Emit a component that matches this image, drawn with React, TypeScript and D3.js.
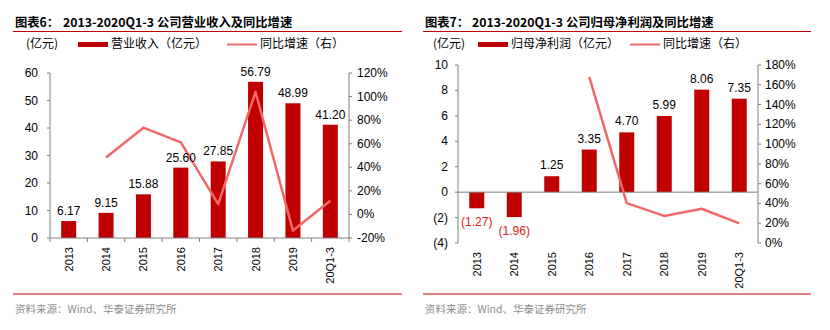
import React from 'react';
import * as d3 from 'd3';

const categories = ['2013', '2014', '2015', '2016', '2017', '2018', '2019', '20Q1-3'];
const revenue = [6.17, 9.15, 15.88, 25.6, 27.85, 56.79, 48.99, 41.2];
const revenueGrowth: (number | null)[] = [null, 48.3, 73.6, 61.2, 8.8, 103.9, -13.7, 11.6];
const profit = [-1.27, -1.96, 1.25, 3.35, 4.7, 5.99, 8.06, 7.35];
const profitGrowth: (number | null)[] = [null, null, null, 168, 40.3, 27.4, 34.6, 19.9];
const leftTicksA = [0, 10, 20, 30, 40, 50, 60];
const rightTicksA = [-20, 0, 20, 40, 60, 80, 100, 120];
const leftTicksB = [-4, -2, 0, 2, 4, 6, 8, 10];
const rightTicksB = [0, 20, 40, 60, 80, 100, 120, 140, 160, 180];

const BAR = '#C00000';
const LINE = '#F26868';
const AXIS = '#7F7F7F';
const FONT = 'Liberation Sans, Arial, sans-serif';
const CJK = '"Noto Sans CJK SC", sans-serif';

function fmtNeg(v: number) {
  return v < 0 ? `(${Math.abs(v).toFixed(2)})` : v.toFixed(2);
}
function fmtTickB(v: number) {
  return v < 0 ? `(${Math.abs(v)})` : `${v}`;
}

function Header({ x0, x1, label, title, titleX, legend, legendX }: any) {
  return (
    <g>
      <text x={x0 + 2} y={27} fontFamily={CJK} fontWeight={700} fontSize={12.3} fill="#000">{label}</text>
      <text x={titleX} y={27} fontFamily={CJK} fontWeight={700} fontSize={12.3} fill="#000">{title}</text>
      <line x1={x0} x2={x1} y1={31.5} y2={31.5} stroke="#C00000" strokeWidth={1} />
      <text x={legendX[0]} y={48} fontFamily={CJK} fontSize={12} fill="#000">(亿元)</text>
      <rect x={legendX[1]} y={42} width={30} height={5} fill={BAR} />
      <text x={legendX[1] + 33} y={48} fontFamily={CJK} fontSize={12} fill="#000">{legend}</text>
      <line x1={legendX[2]} x2={legendX[2] + 30} y1={44.5} y2={44.5} stroke={LINE} strokeWidth={2} />
      <text x={legendX[2] + 33} y={48} fontFamily={CJK} fontSize={12} fill="#000">同比增速（右）</text>
      <line x1={x0} x2={x1} y1={294} y2={294} stroke="#C00000" strokeWidth={1} />
      <text x={x0 + 2} y={313} fontFamily={CJK} fontSize={10.5} fill="#8C8C8C">资料来源：Wind、华泰证券研究所</text>
    </g>
  );
}

function ChartA() {
  const x = d3.scaleBand<string>().domain(categories).range([50, 349]);
  const y = d3.scaleLinear().domain([0, 60]).range([238, 73]);
  const y2 = d3.scaleLinear().domain([-20, 120]).range([238, 73]);
  const bw = 15;
  const line = d3
    .line<[string, number | null]>()
    .defined((d) => d[1] !== null)
    .x((d) => (x(d[0]) as number) + x.bandwidth() / 2)
    .y((d) => y2(d[1] as number));
  const pts = categories.map((c, i) => [c, revenueGrowth[i]] as [string, number | null]);
  const bounds = categories.map((c) => x(c) as number).concat([349]);
  return (
    <g>
      <Header x0={13} x1={402} label="图表6：" title="2013-2020Q1-3 公司营业收入及同比增速" titleX={63}
        legend="营业收入（亿元）" legendX={[26, 78, 227]} />
      {categories.map((c, i) => (
        <rect key={c} x={(x(c) as number) + x.bandwidth() / 2 - bw / 2} y={y(revenue[i])}
          width={bw} height={y(0) - y(revenue[i])} fill={BAR} />
      ))}
      <path d={line(pts) || ''} fill="none" stroke={LINE} strokeWidth={2.5} strokeLinejoin="round" />
      {categories.map((c, i) => (
        <text key={c} x={(x(c) as number) + x.bandwidth() / 2} y={y(revenue[i]) - 6} textAnchor="middle"
          fontFamily={FONT} fontSize={12} fill="#000">{fmtNeg(revenue[i])}</text>
      ))}
      <line x1={50} x2={50} y1={73} y2={238} stroke={AXIS} />
      {leftTicksA.map((t) => (
        <g key={t}>
          <line x1={47} x2={50} y1={y(t)} y2={y(t)} stroke={AXIS} />
          <text x={38} y={y(t) + 4} textAnchor="end" fontFamily={FONT} fontSize={12}>{t}</text>
        </g>
      ))}
      <line x1={349} x2={349} y1={73} y2={238} stroke={AXIS} />
      {rightTicksA.map((t) => (
        <g key={t}>
          <line x1={349} x2={352} y1={y2(t)} y2={y2(t)} stroke={AXIS} />
          <text x={357} y={y2(t) + 4} textAnchor="start" fontFamily={FONT} fontSize={12}>{t}%</text>
        </g>
      ))}
      <line x1={50} x2={349} y1={238} y2={238} stroke={AXIS} />
      {bounds.map((b, i) => (
        <line key={i} x1={b} x2={b} y1={238} y2={242} stroke={AXIS} />
      ))}
      {categories.map((c) => {
        const cx = (x(c) as number) + x.bandwidth() / 2;
        return (
          <text key={c} transform={`translate(${cx + 4},247) rotate(-90)`} textAnchor="end"
            fontFamily={FONT} fontSize={11}>{c}</text>
        );
      })}
    </g>
  );
}

function ChartB() {
  const x = d3.scaleBand<string>().domain(categories).range([458, 758]);
  const y = d3.scaleLinear().domain([-4, 10]).range([243, 65]);
  const y2 = d3.scaleLinear().domain([0, 180]).range([243, 65]);
  const bw = 15;
  const line = d3
    .line<[string, number | null]>()
    .defined((d) => d[1] !== null)
    .x((d) => (x(d[0]) as number) + x.bandwidth() / 2)
    .y((d) => y2(d[1] as number));
  const pts = categories.map((c, i) => [c, profitGrowth[i]] as [string, number | null]);
  return (
    <g>
      <Header x0={423} x1={811} label="图表7：" title="2013-2020Q1-3 公司归母净利润及同比增速" titleX={472}
        legend="归母净利润（亿元）" legendX={[433, 478, 630]} />
      {categories.map((c, i) => {
        const v = profit[i];
        return (
          <rect key={c} x={(x(c) as number) + x.bandwidth() / 2 - bw / 2} y={Math.min(y(v), y(0))}
            width={bw} height={Math.abs(y(0) - y(v))} fill={BAR} />
        );
      })}
      <line x1={458} x2={758} y1={y(0)} y2={y(0)} stroke={AXIS} />
      <path d={line(pts) || ''} fill="none" stroke={LINE} strokeWidth={2.5} strokeLinejoin="round" />
      {categories.map((c, i) => {
        const v = profit[i];
        const cx = (x(c) as number) + x.bandwidth() / 2;
        return (
          <text key={c} x={cx} y={v >= 0 ? y(v) - 7 : y(v) + 18} textAnchor="middle"
            fontFamily={FONT} fontSize={12} fill={v < 0 ? '#E02020' : '#000'}>{fmtNeg(v)}</text>
        );
      })}
      <line x1={458} x2={458} y1={65} y2={243} stroke={AXIS} />
      {leftTicksB.map((t) => (
        <g key={t}>
          <line x1={455} x2={458} y1={y(t)} y2={y(t)} stroke={AXIS} />
          <text x={448} y={y(t) + 4} textAnchor="end" fontFamily={FONT} fontSize={12}>{fmtTickB(t)}</text>
        </g>
      ))}
      <line x1={758} x2={758} y1={65} y2={243} stroke={AXIS} />
      {rightTicksB.map((t) => (
        <g key={t}>
          <line x1={758} x2={761} y1={y2(t)} y2={y2(t)} stroke={AXIS} />
          <text x={765} y={y2(t) + 4} textAnchor="start" fontFamily={FONT} fontSize={12}>{t}%</text>
        </g>
      ))}
      {categories.map((c) => {
        const cx = (x(c) as number) + x.bandwidth() / 2;
        return (
          <text key={c} transform={`translate(${cx + 4},252) rotate(-90)`} textAnchor="end"
            fontFamily={FONT} fontSize={11}>{c}</text>
        );
      })}
    </g>
  );
}

export default function App() {
  return (
    <svg width={830} height={330} style={{ position: 'absolute', left: 0, top: 0, background: '#fff' }}>
      <rect width={830} height={330} fill="#fff" />
      <ChartA />
      <ChartB />
    </svg>
  );
}
